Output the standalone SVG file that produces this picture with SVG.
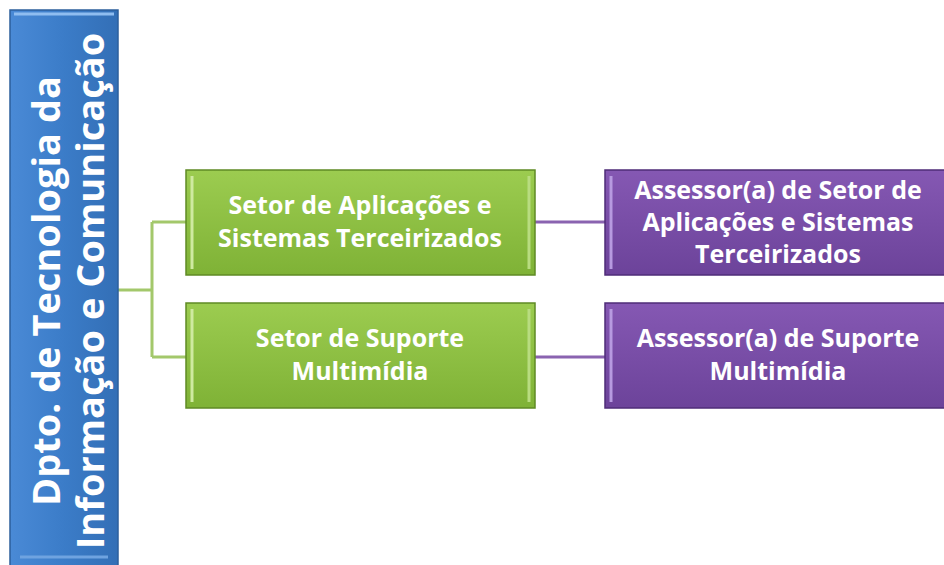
<svg xmlns="http://www.w3.org/2000/svg" width="944" height="565" viewBox="0 0 944 565">
<defs>
<linearGradient id="gB" x1="0" y1="0" x2="1" y2="0"><stop offset="0" stop-color="#4a8ad6"/><stop offset="0.5" stop-color="#3b7cc8"/><stop offset="1" stop-color="#336fb6"/></linearGradient>
<linearGradient id="gG" x1="0" y1="0" x2="0" y2="1"><stop offset="0" stop-color="#9ccc50"/><stop offset="1" stop-color="#7fb236"/></linearGradient>
<linearGradient id="gP" x1="0" y1="0" x2="0" y2="1"><stop offset="0" stop-color="#8558b3"/><stop offset="1" stop-color="#6c439a"/></linearGradient>
<style>
.t{font-family:"Open Sans","Noto Sans",sans-serif;fill:#fff;text-anchor:middle}
.b{font-weight:bold;font-size:25px}
.big{font-size:38px;font-weight:bold}
.hl{fill:none;stroke-width:3}
</style>
</defs>
<rect width="944" height="565" fill="#fff"/>
<g id="connectors" fill="none" stroke-width="3">
<path d="M118 290 H152 M152 222 V357 M152 222 H186 M152 357 H186" stroke="#a3c86b"/>
<path d="M535 222 H605 M535 357 H605" stroke="#8a63b0"/>
</g>
<g id="dept">
<rect x="10" y="10" width="108" height="560" fill="url(#gB)" stroke="#2d5f9c" stroke-width="1.5"/>
<path d="M14 14 H114" stroke="#8fbdf0" class="hl"/>
<path d="M20 557 H108" stroke="#6fa3e0" class="hl"/>
<text class="t big" transform="translate(64,291) rotate(-90)" y="-4">Dpto. de Tecnologia da</text>
<text class="t big" transform="translate(64,291) rotate(-90)" y="40">Informação e Comunicação</text>
</g>
<g id="setor1">
<rect x="186" y="170" width="349" height="105" fill="url(#gG)" stroke="#5f8a25" stroke-width="1.5"/>
<path d="M192 176 V269" stroke="#cfeaa0" class="hl"/>
<path d="M529 176 V269" stroke="#b8dc80" class="hl"/>
<text class="t b" x="360" y="214">Setor de Aplicações e</text>
<text class="t b" x="360" y="247">Sistemas Terceirizados</text>
</g>
<g id="setor2">
<rect x="186" y="303" width="349" height="105" fill="url(#gG)" stroke="#5f8a25" stroke-width="1.5"/>
<path d="M192 309 V402" stroke="#cfeaa0" class="hl"/>
<path d="M529 309 V402" stroke="#b8dc80" class="hl"/>
<text class="t b" x="360" y="347">Setor de Suporte</text>
<text class="t b" x="360" y="380">Multimídia</text>
</g>
<g id="assessor1">
<rect x="605" y="170" width="345" height="105" fill="url(#gP)" stroke="#4f2d78" stroke-width="1.5"/>
<path d="M611 176 V269" stroke="#b79ae0" class="hl"/>
<text class="t b" x="778" y="199">Assessor(a) de Setor de</text>
<text class="t b" x="778" y="231">Aplicações e Sistemas</text>
<text class="t b" x="778" y="263">Terceirizados</text>
</g>
<g id="assessor2">
<rect x="605" y="303" width="345" height="105" fill="url(#gP)" stroke="#4f2d78" stroke-width="1.5"/>
<path d="M611 309 V402" stroke="#b79ae0" class="hl"/>
<text class="t b" x="778" y="347">Assessor(a) de Suporte</text>
<text class="t b" x="778" y="380">Multimídia</text>
</g>
</svg>
